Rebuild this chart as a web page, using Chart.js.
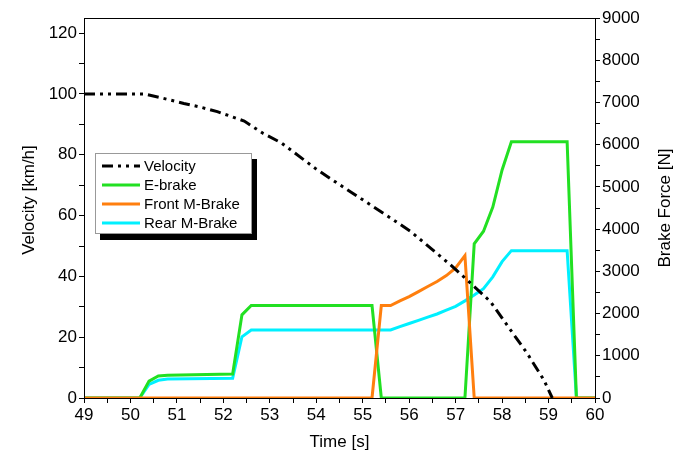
<!DOCTYPE html>
<html>
<head>
<meta charset="utf-8">
<script src="https://cdn.jsdelivr.net/npm/chart.js@4.4.1/dist/chart.umd.min.js"></script>
<style>
    html, body { margin: 0; padding: 0; background: #fff; }
    #wrap { position: relative; width: 681px; height: 457px; }
    #legend {
        position: absolute; left: 95px; top: 153px; width: 157px; height: 81px;
        background: #fff; border: 1px solid #999; box-shadow: 5px 6px 0 #000;
        font: 15px "Liberation Sans", Arial, sans-serif; color: #000;
        box-sizing: border-box; padding-top: 2px;
    }
    .item { height: 19px; line-height: 19px; display: flex; align-items: center; }
    .item canvas { margin-left: 6px; margin-right: 4px; }
</style>
</head>
<body>
<div id="wrap">
    <canvas id="chart" width="681" height="457"></canvas>
    <div id="legend"></div>
</div>
<script>
// Velocity trace (time in s, velocity in km/h)
const velTime = [49, 49.5, 50, 50.3, 50.65, 51.15, 51.5, 51.87, 52.45, 52.86, 53.24, 53.72,
    54, 54.44, 54.8, 55.16, 55.6, 56.03, 56.46, 56.89, 57.32, 57.75, 58.18, 58.54, 58.9, 59.08];
const velocity = [100, 100, 100, 100, 98.8, 96.9, 95.7, 94.2, 91.1, 87, 84, 78.5,
    75.3, 70.8, 67.2, 63.6, 59.2, 54.8, 49.3, 43.8, 37.8, 31.7, 22.4, 14.7, 5.9, 0];

// Brake force traces (time in s, force in N)
const eTime = [49, 50.2, 50.4, 50.6, 50.8, 52.2, 52.4, 52.6, 55.2, 55.4, 57.2, 57.4, 57.6, 57.8, 58.0, 58.2, 59.4, 59.6, 60];
const eBrake = [0, 0, 400, 520, 540, 570, 1970, 2190, 2190, 0, 0, 3650, 3950, 4520, 5400, 6070, 6070, 0, 0];

const frontTime = [49, 55.2, 55.4, 55.6, 55.8, 56.0, 56.2, 56.4, 56.6, 56.8, 57.0, 57.2, 57.4, 60];
const frontBrake = [0, 0, 2190, 2190, 2300, 2400, 2520, 2640, 2760, 2900, 3080, 3370, 0, 0];

const rearTime = [49, 50.2, 50.4, 50.6, 50.8, 52.2, 52.4, 52.6, 55.6, 55.8, 56.0, 56.2, 56.4, 56.6,
    56.8, 57.0, 57.2, 57.4, 57.6, 57.8, 58.0, 58.2, 59.4, 59.6, 60];
const rearBrake = [0, 0, 320, 420, 450, 470, 1450, 1610, 1610, 1690, 1765, 1840, 1915, 1990,
    2080, 2170, 2300, 2440, 2590, 2870, 3230, 3490, 3490, 0, 0];

const seriesNames = ['Velocity', 'E-brake', 'Front M-Brake', 'Rear M-Brake'];
const seriesColors = ['#000000', '#22e022', '#ff7f0e', '#00f0ff'];
const velocityDash = [11, 5, 3, 5, 3, 5];

const FONT = '"Liberation Sans", Arial, sans-serif';

function toPoints(xs, ys) {
    return xs.map((x, i) => ({ x: x, y: ys[i] }));
}

// Draws the box round the plot area and the two vertical axis titles
// (both read bottom-to-top, which Chart.js does not do for a right axis)
const framePlugin = {
    id: 'frame',
    afterDraw(chart) {
        const { ctx, chartArea: a } = chart;
        ctx.save();
        ctx.strokeStyle = '#000';
        ctx.lineWidth = 1;
        ctx.strokeRect(a.left + 0.5, a.top + 0.5, a.right - a.left, a.bottom - a.top);

        ctx.fillStyle = '#000';
        ctx.font = '17px ' + FONT;
        ctx.textAlign = 'center';
        ctx.textBaseline = 'middle';
        const titles = [['Velocity [km/h]', 29, 200], ['Brake Force [N]', 665, 208]];
        titles.forEach(([text, x, y]) => {
            ctx.save();
            ctx.translate(x, y);
            ctx.rotate(-Math.PI / 2);
            ctx.fillText(text, 0, 0);
            ctx.restore();
        });
        ctx.restore();
    }
};

const tickFont = { family: FONT, size: 17 };
const titleFont = { family: FONT, size: 17 };

new Chart(document.getElementById('chart'), {
    type: 'line',
    data: {
        datasets: [
            {
                label: seriesNames[0],
                data: toPoints(velTime, velocity),
                yAxisID: 'y',
                borderColor: seriesColors[0],
                borderWidth: 3,
                borderDash: velocityDash,
                order: 0
            },
            {
                label: seriesNames[3],
                data: toPoints(rearTime, rearBrake),
                yAxisID: 'y2',
                borderColor: seriesColors[3],
                borderWidth: 3,
                order: 3
            },
            {
                label: seriesNames[1],
                data: toPoints(eTime, eBrake),
                yAxisID: 'y2',
                borderColor: seriesColors[1],
                borderWidth: 3,
                order: 2
            },
            {
                label: seriesNames[2],
                data: toPoints(frontTime, frontBrake),
                yAxisID: 'y2',
                borderColor: seriesColors[2],
                borderWidth: 3,
                order: 1
            }
        ]
    },
    options: {
        responsive: false,
        animation: false,
        layout: { padding: { top: 18, left: 0, right: 0, bottom: 0 } },
        elements: { point: { radius: 0 }, line: { tension: 0 } },
        plugins: { legend: { display: false }, tooltip: { enabled: false } },
        scales: {
            x: {
                type: 'linear',
                min: 49,
                max: 60,
                afterFit: (s) => { s.height = 59; },
                grid: { drawOnChartArea: false, tickLength: 5, color: '#000' },
                border: { color: '#000' },
                ticks: {
                    stepSize: 0.5,
                    includeBounds: false,
                    autoSkip: false,
                    maxRotation: 0,
                    color: '#000',
                    font: tickFont,
                    padding: 2,
                    callback: (v) => Number.isInteger(v) ? String(v) : ''
                },
                title: { display: true, text: 'Time [s]', color: '#000', font: titleFont, padding: { top: 0, bottom: 4 } }
            },
            y: {
                position: 'left',
                min: 0,
                max: 125,
                afterFit: (s) => { s.width = 84; },
                grid: { drawOnChartArea: false, tickLength: 5, color: '#000' },
                border: { color: '#000' },
                ticks: {
                    stepSize: 10,
                    includeBounds: false,
                    autoSkip: false,
                    color: '#000',
                    font: tickFont,
                    padding: 2,
                    callback: (v) => v % 20 === 0 ? String(v) : ''
                }
            },
            y2: {
                position: 'right',
                min: 0,
                max: 9000,
                afterFit: (s) => { s.width = 86; },
                grid: { drawOnChartArea: false, tickLength: 5, color: '#000' },
                border: { color: '#000' },
                ticks: {
                    stepSize: 500,
                    includeBounds: false,
                    autoSkip: false,
                    color: '#000',
                    font: tickFont,
                    padding: 2,
                    callback: (v) => v % 1000 === 0 ? String(v) : ''
                }
            }
        }
    },
    plugins: [framePlugin]
});

// Legend built as HTML so the box and its shadow match the reference
const legend = document.getElementById('legend');
seriesNames.forEach((name, i) => {
    const row = document.createElement('div');
    row.className = 'item';
    const sample = document.createElement('canvas');
    sample.width = 38;
    sample.height = 6;
    const c = sample.getContext('2d');
    c.strokeStyle = seriesColors[i];
    c.lineWidth = 3;
    if (i === 0) c.setLineDash(velocityDash);
    c.beginPath();
    c.moveTo(0, 3);
    c.lineTo(38, 3);
    c.stroke();
    row.appendChild(sample);
    const label = document.createElement('span');
    label.textContent = name;
    row.appendChild(label);
    legend.appendChild(row);
});
</script>
</body>
</html>
